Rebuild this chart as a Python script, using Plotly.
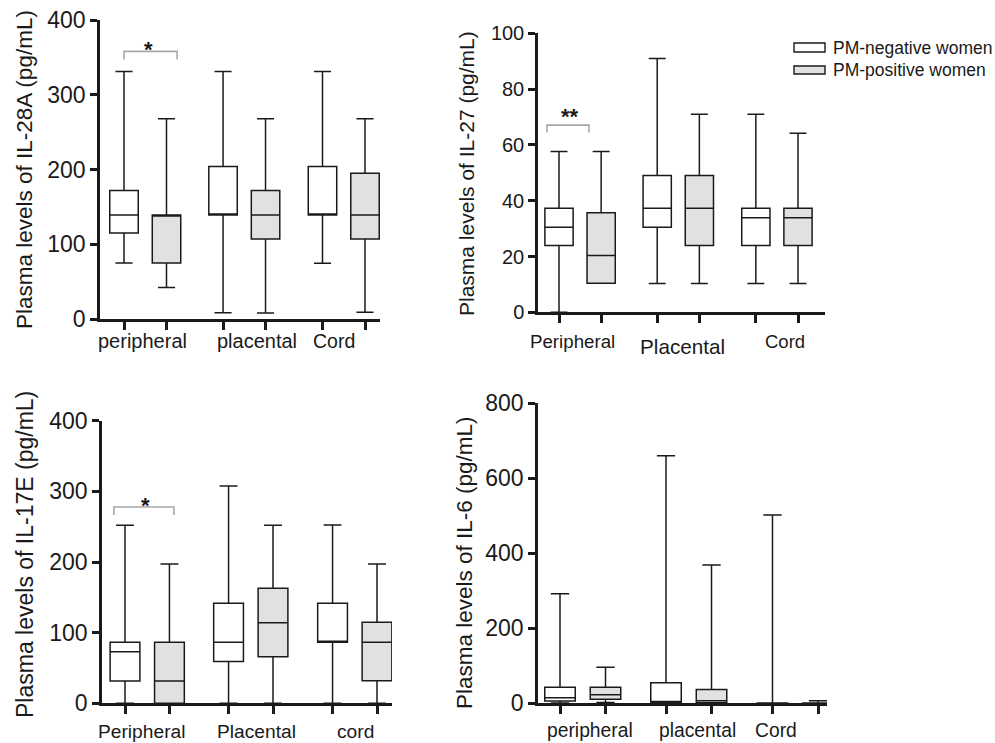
import plotly.graph_objects as go

W, H = 995, 743
FONT = "Liberation Sans, Arial, Helvetica, sans-serif"
INK = "#1a1a1a"
GRAY_FILL = "#e0e2e1"
BRACKET = "#a8a8a8"

# ---------------- data ----------------
# order: peripheral neg, peripheral pos, placental neg, placental pos, cord neg, cord pos
box_positions = [0, 1, 2.33, 3.33, 4.67, 5.67]

il28a_low = [75, 42, 8.5, 8, 74.5, 9]
il28a_q1 = [115, 75, 139, 107, 139, 107]
il28a_med = [139, 139, 139, 139, 139, 139]
il28a_q3 = [172, 139, 204, 172, 204, 195]
il28a_up = [331, 268, 331, 268, 331, 268]

il27_low = [0, 10.4, 10.3, 10.3, 10.3, 10.3]
il27_q1 = [23.9, 10.4, 30.5, 23.9, 23.9, 23.9]
il27_med = [30.5, 20.4, 37.3, 37.3, 33.9, 33.9]
il27_q3 = [37.3, 35.7, 49, 49, 37.3, 37.3]
il27_up = [57.6, 57.6, 91, 71, 71, 64.2]

il17e_low = [0, 0, 0, 0, 0, 0]
il17e_q1 = [31.6, 0, 59, 66, 86.3, 32]
il17e_med = [73, 31.6, 86.3, 114, 86.3, 86.3]
il17e_q3 = [86.3, 86.3, 141.5, 162.7, 141.5, 114.6]
il17e_up = [252, 197, 307.5, 252, 252.4, 197]

il6_low = [1, 2, 0, 0, 0, 0]
il6_q1 = [6, 10.7, 2, 1.6, 0.5, 0.5]
il6_med = [15, 23, 4, 7, 0.5, 0.5]
il6_q3 = [42.7, 42.7, 55, 37, 1, 1]
il6_up = [292, 96, 660, 369, 502, 7]

y_titles = ["Plasma levels of IL-28A (pg/mL)", "Plasma levels of IL-27 (pg/mL)",
            "Plasma levels of IL-17E (pg/mL)", "Plasma levels of IL-6 (pg/mL)"]
cat_labels_1 = ["peripheral", "placental", "Cord"]
cat_labels_2 = ["Peripheral", "Placental", "Cord"]
cat_labels_3 = ["Peripheral", "Placental", "cord"]
cat_labels_4 = ["peripheral", "placental", "Cord"]
legend_names = ["PM-negative women", "PM-positive women"]
y_ranges = [[0, 400], [0, 100], [0, 400], [0, 800]]
y_dticks = [100, 20, 100, 200]
signif = ["*", "**", "*", None]

# ---------------- layout (pixel geometry) ----------------
# left px, right px, first box px, last box px, y-bottom px, y-top px
geom = [
    (100, 380, 124, 365, 319, 20),
    (538, 825, 559, 798, 312.3, 33.3),
    (102, 392, 125, 377, 703.3, 420.7),
    (538, 827, 560, 818, 703.3, 403.3),
]
tick_fonts = [23, 20, 23, 23]
title_geom = [(24, 170, 22.5), (466, 174, 21), (25, 555, 23), (464, 563, 22.5)]
cat_geom = [
    [(142, 341, 20), (257, 341, 20), (334, 341, 19.5)],
    [(572, 342, 18.7), (682, 346, 20.7), (785, 342, 18.5)],
    [(141, 731, 19.2), (256, 731, 19.2), (355, 731, 19.2)],
    [(590, 730, 19.3), (697, 730, 19.3), (776, 730, 19.3)],
]
# bracket: x0, x1 (axis units), y top, y leg end, star x, star y
bracket_geom = [
    (0, 1.25, 358, 347, 0.565, 366),
    (-0.285, 0.71, 67.1, 64.4, 0.26, 71.6),
    (-0.25, 1.1, 277.8, 266.5, 0.47, 285),
    None,
]

panels = [
    (il28a_low, il28a_q1, il28a_med, il28a_q3, il28a_up, cat_labels_1),
    (il27_low, il27_q1, il27_med, il27_q3, il27_up, cat_labels_2),
    (il17e_low, il17e_q1, il17e_med, il17e_q3, il17e_up, cat_labels_3),
    (il6_low, il6_q1, il6_med, il6_q3, il6_up, cat_labels_4),
]

fig = go.Figure()
layout = dict(
    template="none",
    width=W, height=H,
    margin=dict(l=0, r=0, t=0, b=0, pad=0, autoexpand=False),
    paper_bgcolor="white", plot_bgcolor="white",
    font=dict(family=FONT, color=INK), boxmode="overlay",
    showlegend=False,
)
annotations = []
shapes = []

for i, (low, q1, med, q3, up, cats) in enumerate(panels):
    n = "" if i == 0 else str(i + 1)
    L, R, p0, p5, yb, yt = geom[i]
    unit = (p5 - p0) / (box_positions[-1] - box_positions[0])
    xr = [(L - p0) / unit, (R - p0) / unit]
    xdom = [L / W, R / W]
    ydom = [1 - yb / H, 1 - yt / H]
    layout["xaxis" + n] = dict(
        domain=xdom, range=xr, anchor="y" + n, showgrid=False, zeroline=False,
        automargin=False,
        showline=True, linecolor=INK, linewidth=2.5, ticks="outside", ticklen=8,
        tickwidth=2.5, tickcolor=INK, tickvals=box_positions, showticklabels=False,
    )
    layout["yaxis" + n] = dict(
        domain=ydom, range=y_ranges[i], anchor="x" + n, showgrid=False, zeroline=False,
        automargin=False,
        showline=True, linecolor=INK, linewidth=2.5, ticks="outside", ticklen=7,
        tickwidth=2.5, tickcolor=INK, dtick=y_dticks[i], tick0=0,
        tickfont=dict(size=tick_fonts[i], family=FONT, color=INK),
    )
    for g, fill in enumerate(["white", GRAY_FILL]):
        fig.add_trace(go.Box(
            x=box_positions[g::2], q1=q1[g::2], median=med[g::2], q3=q3[g::2],
            lowerfence=low[g::2], upperfence=up[g::2],
            xaxis="x" + n, yaxis="y" + n, fillcolor=fill,
            line=dict(color=INK, width=1.5), width=0.67, whiskerwidth=0.6,
            boxpoints=False, name=legend_names[g], hoverinfo="skip",
        ))
    tx, ty, tf = title_geom[i]
    annotations.append(dict(
        x=tx / W, y=1 - ty / H, xref="paper", yref="paper", text=y_titles[i],
        textangle=-90, showarrow=False, xanchor="center", yanchor="middle",
        font=dict(size=tf, family=FONT, color=INK),
    ))
    for lab, (cx, cy, cf) in zip(cats, cat_geom[i]):
        annotations.append(dict(
            x=cx / W, y=1 - cy / H, xref="paper", yref="paper", text=lab,
            showarrow=False, xanchor="center", yanchor="middle",
            font=dict(size=cf, family=FONT, color=INK),
        ))
    bg = bracket_geom[i]
    if bg is not None:
        x0, x1, ytop, yleg, sx, sy = bg
        shapes.append(dict(
            type="path", xref="x" + n, yref="y" + n,
            path=f"M {x0},{yleg} L {x0},{ytop} L {x1},{ytop} L {x1},{yleg}",
            line=dict(color=BRACKET, width=1.6),
        ))
        annotations.append(dict(
            x=sx, y=sy, xref="x" + n, yref="y" + n, text="<b>" + signif[i] + "</b>",
            showarrow=False, xanchor="center", yanchor="middle", yshift=-4,
            font=dict(size=22, family=FONT, color=INK),
        ))

# legend (drawn manually in top-right)
leg_rows = [(43, 52, "white"), (66, 74, GRAY_FILL)]
for (y0, y1, fill), name in zip(leg_rows, legend_names):
    shapes.append(dict(
        type="rect", xref="paper", yref="paper",
        x0=794 / W, x1=825 / W, y0=1 - y1 / H, y1=1 - y0 / H,
        fillcolor=fill, line=dict(color=INK, width=1.4),
    ))
    annotations.append(dict(
        x=831 / W, y=1 - ((y0 + y1) / 2) / H, xref="paper", yref="paper",
        text=name, showarrow=False, xanchor="left", yanchor="middle",
        font=dict(size=17.5, family=FONT, color=INK),
    ))

layout["annotations"] = annotations
layout["shapes"] = shapes
fig.update_layout(**layout)
fig.write_html("out.html")
